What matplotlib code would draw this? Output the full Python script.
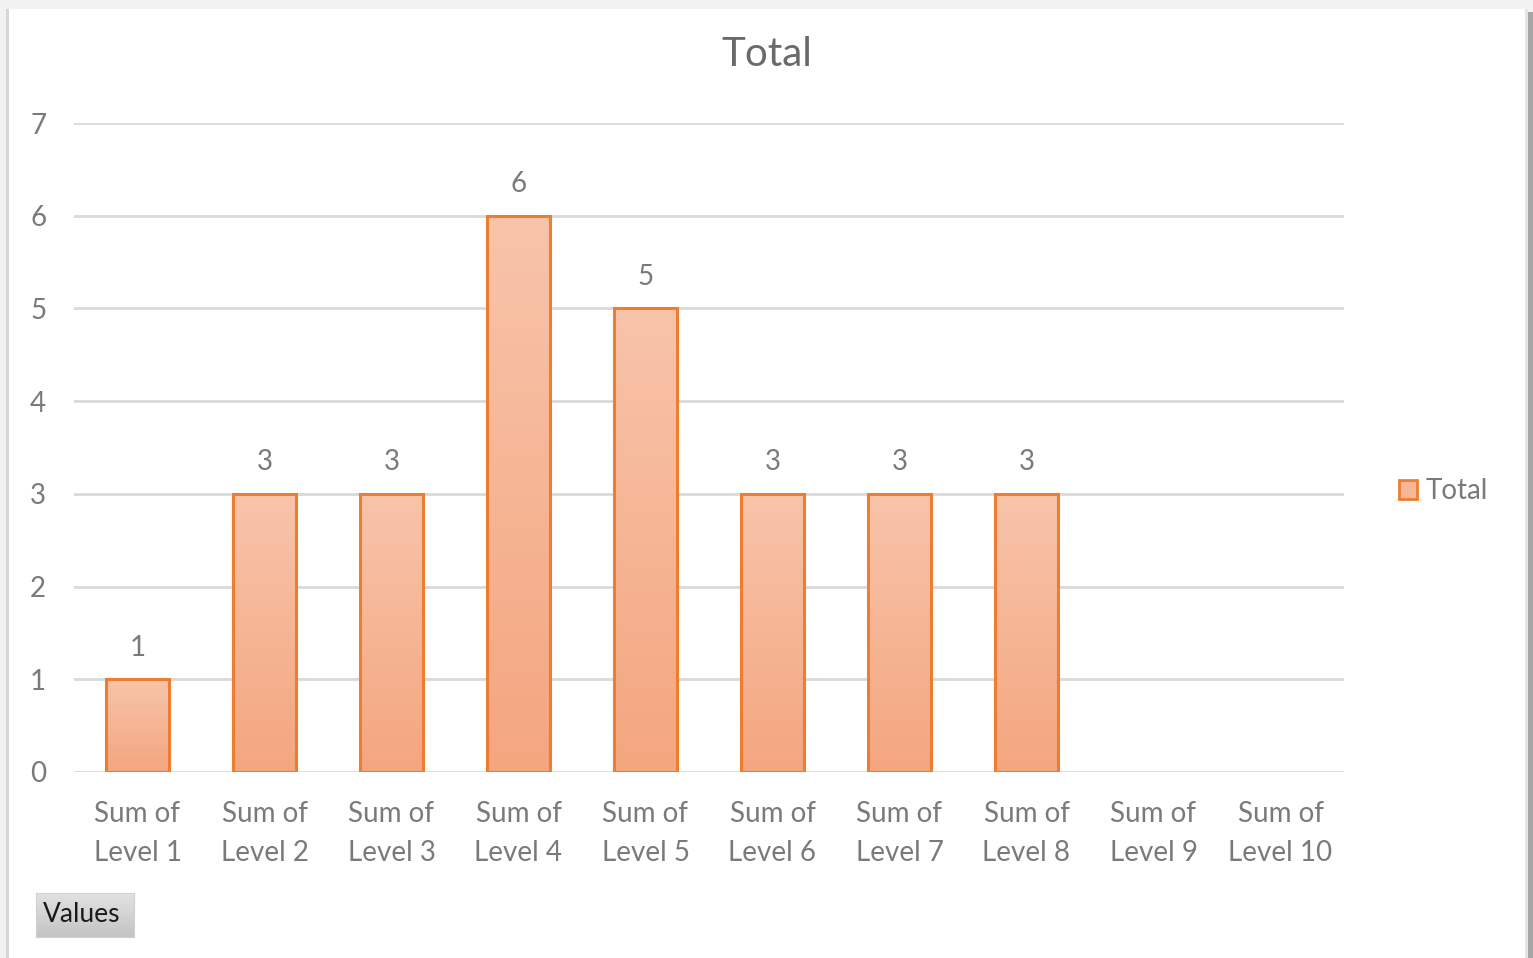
"""
Excel-style pivot chart: Total per level
"""
import numpy as np
import matplotlib
matplotlib.use("Agg")
import matplotlib.pyplot as plt
from matplotlib.patches import Rectangle, Patch
from matplotlib.colors import LinearSegmentedColormap

categories = [f"Sum of\nLevel {i}" for i in range(1, 11)]
values = [1, 3, 3, 6, 5, 3, 3, 3, np.nan, np.nan]
y_ticks = [0, 1, 2, 3, 4, 5, 6, 7]
series_name = "Total"

EDGE = "#ED7D31"
TEXT = "#7A7A7A"
GRID = "#D9D9D9"
bar_cmap = LinearSegmentedColormap.from_list("bar", ["#F4A67F", "#F8C4AA"])

plt.rcParams["font.family"] = ["Lato", "DejaVu Sans"]

W, H = 1533, 958
fig = plt.figure(figsize=(W / 100, H / 100), dpi=100, facecolor="#F2F2F2")

# window frame: white panel with grey borders / right shadow
frame = [
    ((9, 0), 1525 - 9, H - 9, "white"),
    ((6, 0), 3, H - 9, "#D6D6D6"),
    ((1525, 0), 3, H - 9, "#E4E4E4"),
    ((1528, 0), 5, H - 12, "#A6A6A6"),
]
for (x0, y0), w, h, c in frame:
    fig.patches.append(Rectangle((x0 / W, y0 / H), w / W, h / H,
                                 transform=fig.transFigure, fc=c, ec="none", zorder=-5))

ax = fig.add_axes([74 / W, 1 - 772 / H, (1344 - 74) / W, (772 - 123) / H])
ax.set_facecolor("none")

x = np.arange(len(categories))
width = 0.5
grad = np.linspace(0, 1, 256).reshape(-1, 1)
for xi, v in zip(x, values):
    if np.isnan(v):
        continue
    ax.imshow(grad, cmap=bar_cmap, origin="lower", aspect="auto",
              extent=(xi - width / 2, xi + width / 2, 0, v), zorder=2)
    ax.add_patch(Rectangle((xi - width / 2, 0), width, v, fc="none",
                           ec=EDGE, lw=2.2, zorder=3))
    ax.text(xi, v + 0.2, f"{v:g}", ha="center", va="bottom",
            fontsize=20, color=TEXT, zorder=4)

ax.set_xlim(-0.5, len(categories) - 0.5)
ax.set_ylim(0, 7)
ax.set_yticks(y_ticks)
ax.set_xticks(x)
ax.set_xticklabels(categories, linespacing=1.62)
ax.tick_params(axis="both", length=0, labelsize=20, labelcolor=TEXT)
ax.tick_params(axis="x", pad=21)
ax.tick_params(axis="y", pad=20)
ax.grid(axis="y", color=GRID, lw=2, zorder=0)
ax.set_axisbelow(True)
for s in ax.spines.values():
    s.set_visible(False)

fig.text(767 / W, 1 - 55 / H, series_name, ha="center", va="center",
         fontsize=29, color="#6A6A6A")

fig.legend(handles=[Patch(fc="#F6B797", ec=EDGE, lw=2, label=series_name)],
           loc="center left", bbox_to_anchor=(1374 / W, 1 - 491 / H),
           frameon=False, fontsize=20, handlelength=0.65, handleheight=0.65,
           handletextpad=0.3, labelcolor=TEXT)

# "Values" field button
bax = fig.add_axes([36 / W, 1 - 937 / H, (134 - 36) / W, (937 - 893) / H])
bax.imshow(np.linspace(0, 1, 64).reshape(-1, 1),
           cmap=LinearSegmentedColormap.from_list("btn", ["#E2E2E2", "#C4C4C4"]),
           aspect="auto", extent=(0, 1, 0, 1))
bax.text(0.07, 0.52, "Values", ha="left", va="center", fontsize=19,
         color="#1A1A1A", transform=bax.transAxes)
bax.set_xticks([])
bax.set_yticks([])
for s in bax.spines.values():
    s.set_color("#D0D0D0")

fig.savefig("out.png", dpi=100, facecolor=fig.get_facecolor())
